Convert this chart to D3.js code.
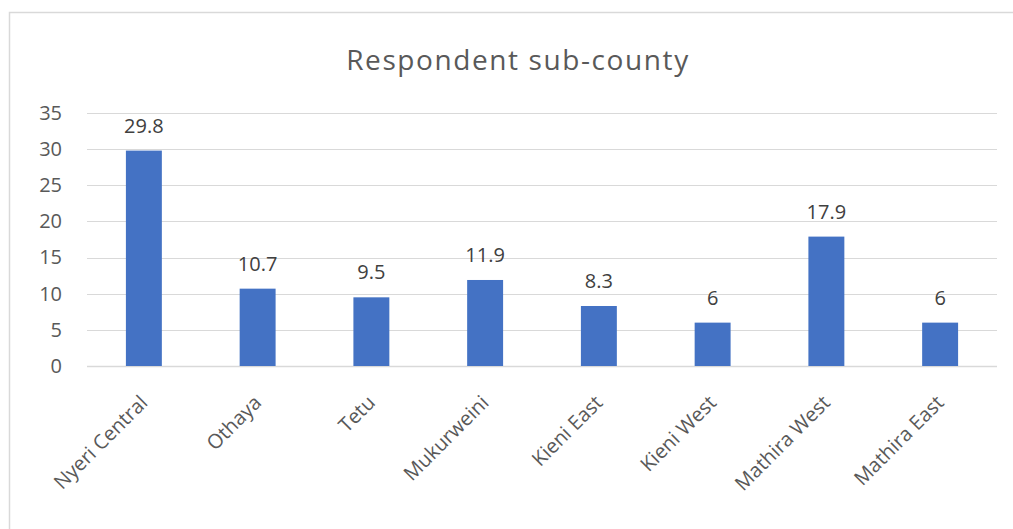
<!DOCTYPE html>
<html>
<head>
<meta charset="utf-8">
<script src="https://cdn.jsdelivr.net/npm/d3@7"></script>
<style>
  body { margin: 0; background: #fff; }
  svg { display: block; }
</style>
</head>
<body>
<div id="chart"></div>
<script>
// data
const categories = ["Nyeri Central", "Othaya", "Tetu", "Mukurweini", "Kieni East", "Kieni West", "Mathira West", "Mathira East"];
const values = [29.8, 10.7, 9.5, 11.9, 8.3, 6, 17.9, 6];
const yTicks = [0, 5, 10, 15, 20, 25, 30, 35];

const width = 1013, height = 529;
const margin = { top: 113, right: 16, bottom: 163, left: 87 };
const font = "'Open Sans', 'Noto Sans', sans-serif";

const svg = d3.select("#chart").append("svg")
    .attr("width", width)
    .attr("height", height)
    .style("font-family", font);

// chart frame
svg.append("rect")
    .attr("x", 9.5).attr("y", 12.5)
    .attr("width", 1020).attr("height", 540)
    .attr("fill", "none")
    .attr("stroke", "#d9d9d9")
    .attr("stroke-width", 1.5);

// title
svg.append("text")
    .attr("x", 518).attr("y", 70)
    .attr("text-anchor", "middle")
    .attr("font-size", 28)
    .attr("letter-spacing", 1.6)
    .attr("fill", "#595959")
    .text("Respondent sub-county");

const x = d3.scaleBand()
    .domain(categories)
    .range([margin.left, width - margin.right])
    .paddingInner(0.684)
    .paddingOuter(0.342);

const y = d3.scaleLinear()
    .domain([0, 35])
    .range([height - margin.bottom, margin.top]);

// gridlines
svg.append("g")
    .selectAll("line")
    .data(yTicks)
    .join("line")
    .attr("x1", margin.left).attr("x2", width - margin.right)
    .attr("y1", d => Math.round(y(d)) + 0.5).attr("y2", d => Math.round(y(d)) + 0.5)
    .attr("stroke", "#d9d9d9")
    .attr("stroke-width", d => d === 0 ? 1.5 : 1);

// y axis labels
const yAxis = d3.axisLeft(y).tickValues(yTicks).tickSize(0).tickPadding(0);
const yg = svg.append("g")
    .attr("transform", `translate(${margin.left - 25},0)`)
    .call(yAxis);
yg.select(".domain").remove();
yg.selectAll("text")
    .attr("font-size", 20)
    .attr("fill", "#595959")
    .style("font-family", font);

// bars
svg.append("g")
    .selectAll("rect")
    .data(values)
    .join("rect")
    .attr("x", (d, i) => x(categories[i]))
    .attr("y", d => y(d))
    .attr("width", x.bandwidth())
    .attr("height", d => y(0) - y(d))
    .attr("fill", "#4472c4");

// data labels
svg.append("g")
    .selectAll("text")
    .data(values)
    .join("text")
    .attr("x", (d, i) => x(categories[i]) + x.bandwidth() / 2)
    .attr("y", d => y(d) - 18)
    .attr("text-anchor", "middle")
    .attr("font-size", 20)
    .attr("fill", "#404040")
    .text(d => d);

// x axis labels, rotated
const xAxis = d3.axisBottom(x).tickSize(0).tickPadding(0);
const xg = svg.append("g")
    .attr("transform", `translate(0,${y(0)})`)
    .call(xAxis);
xg.select(".domain").remove();
xg.selectAll("text")
    .attr("font-size", 20)
    .attr("fill", "#595959")
    .style("font-family", font)
    .attr("text-anchor", "end")
    .attr("dy", "0.35em")
    .attr("transform", "translate(0,33) rotate(-45)");
</script>
</body>
</html>
